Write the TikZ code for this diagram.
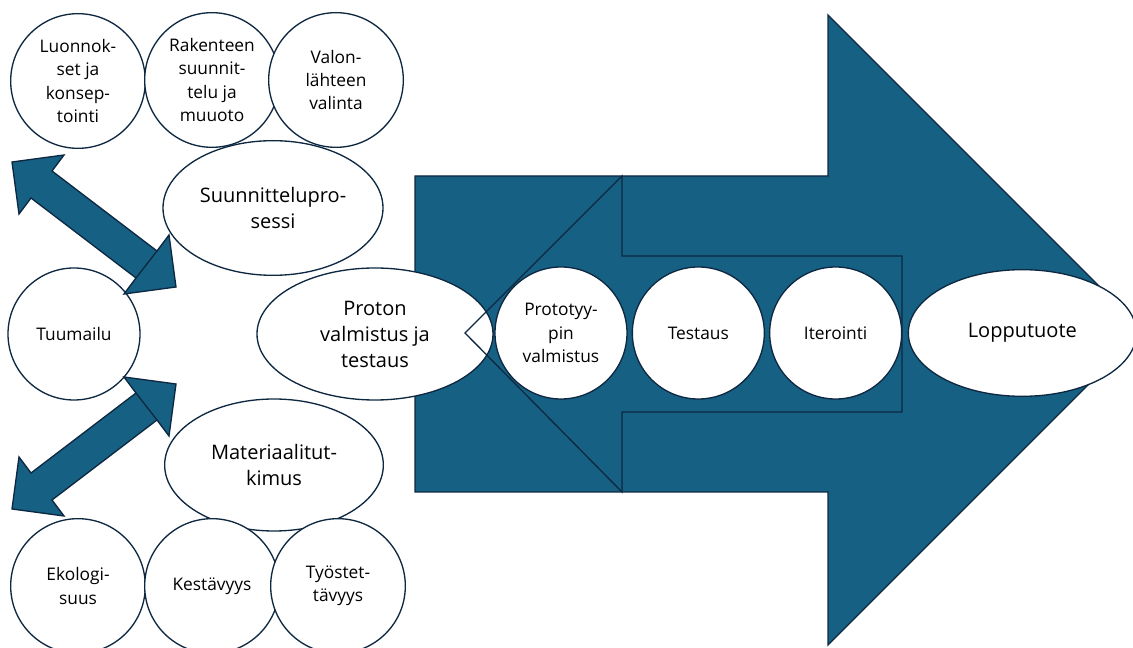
\documentclass[tikz,border=0pt]{standalone}
\usepackage{fontspec}
\setmainfont{Open Sans}
\usetikzlibrary{positioning, shapes.geometric}
\definecolor{arrowblue}{HTML}{166083}
\definecolor{edgenavy}{HTML}{0E2841}
\newcommand{\smalltxt}{\fontsize{13}{17.5}\selectfont}
\newcommand{\bigtxt}{\fontsize{15}{19.5}\selectfont}
\tikzset{
  roundbox/.style={circle, draw=edgenavy, fill=white, line width=1pt, minimum size=101pt, inner sep=0pt, align=center, font=\smalltxt},
  ovalbox/.style={ellipse, draw=edgenavy, fill=white, line width=1pt, inner sep=0pt, align=center, font=\bigtxt},
  blueshape/.style={fill=arrowblue, draw=edgenavy, line width=1pt, line join=miter}
}
\begin{document}
\begin{tikzpicture}[x=0.75pt, y=-0.75pt]
    \useasboundingbox (0,0) rectangle (1133,648);
    \clip (0,0) rectangle (1133,648);
    %big arrow
    \draw[blueshape] (415,176) -- (828,176) -- (828,15) -- (1143,330) -- (828,645) -- (828,492) -- (415,492) -- cycle;
    \node (proton) [ovalbox, minimum width=177pt, minimum height=99pt] at (375,334) {Proton\\valmistus ja\\testaus};
    %inner arrow
    \draw[edgenavy, line width=1pt] (465,333) -- (622,176) -- (622,256) -- (902,256) -- (902,412) -- (622,412) -- (622,492) -- cycle;
    \node (proto) [roundbox, minimum size=99pt] at (561,333) {Prototyy-\\pin\\valmistus};
    \node (test) [roundbox, minimum size=99pt, right=3pt of proto] {Testaus};
    \node (iter) [roundbox, minimum size=99pt, right=3pt of test] {Iterointi};
    \node (loppu) [ovalbox, minimum width=171pt, minimum height=95pt, right=4pt of iter] {Lopputuote};

    %left side
    \node (tuum) [roundbox, minimum size=99pt] at (74,334) {Tuumailu};
    \node (suun) [ovalbox, minimum width=165pt, minimum height=101pt] at (273,208) {Suunnittelupro-\\sessi};
    \node (mater) [ovalbox, minimum width=164pt, minimum height=99pt] at (274,465) {Materiaalitut-\\kimus};
    \node (luon) [roundbox] at (78,81) {Luonnok-\\set ja\\konsep-\\tointi};
    \node (rak) [roundbox] at (212,80) {Rakenteen\\suunnit-\\telu ja\\muuoto};
    \node (valo) [roundbox] at (336,80) {Valon-\\lähteen\\valinta};
    \node (eko) [roundbox] at (78,586) {Ekologi-\\suus};
    \node (kest) [roundbox] at (212,586) {Kestävyys};
    \node (tyo) [roundbox] at (338,586) {Työstet-\\tävyys};

    %two-way arrows
    \draw[blueshape] (12,162) -- (64,155) -- (52,171) -- (157,251) -- (169,235) -- (176,287) -- (124,294) -- (136,278) -- (31,198) -- (19,214) -- cycle;
    \draw[edgenavy, line width=1pt] (157,251) -- (136,278);
    \draw[blueshape] (12,509) -- (64,516) -- (52,500) -- (157,420) -- (169,436) -- (176,384) -- (124,377) -- (136,393) -- (31,473) -- (19,457) -- cycle;
    \draw[edgenavy, line width=1pt] (157,420) -- (136,393);
\end{tikzpicture}
\end{document}
